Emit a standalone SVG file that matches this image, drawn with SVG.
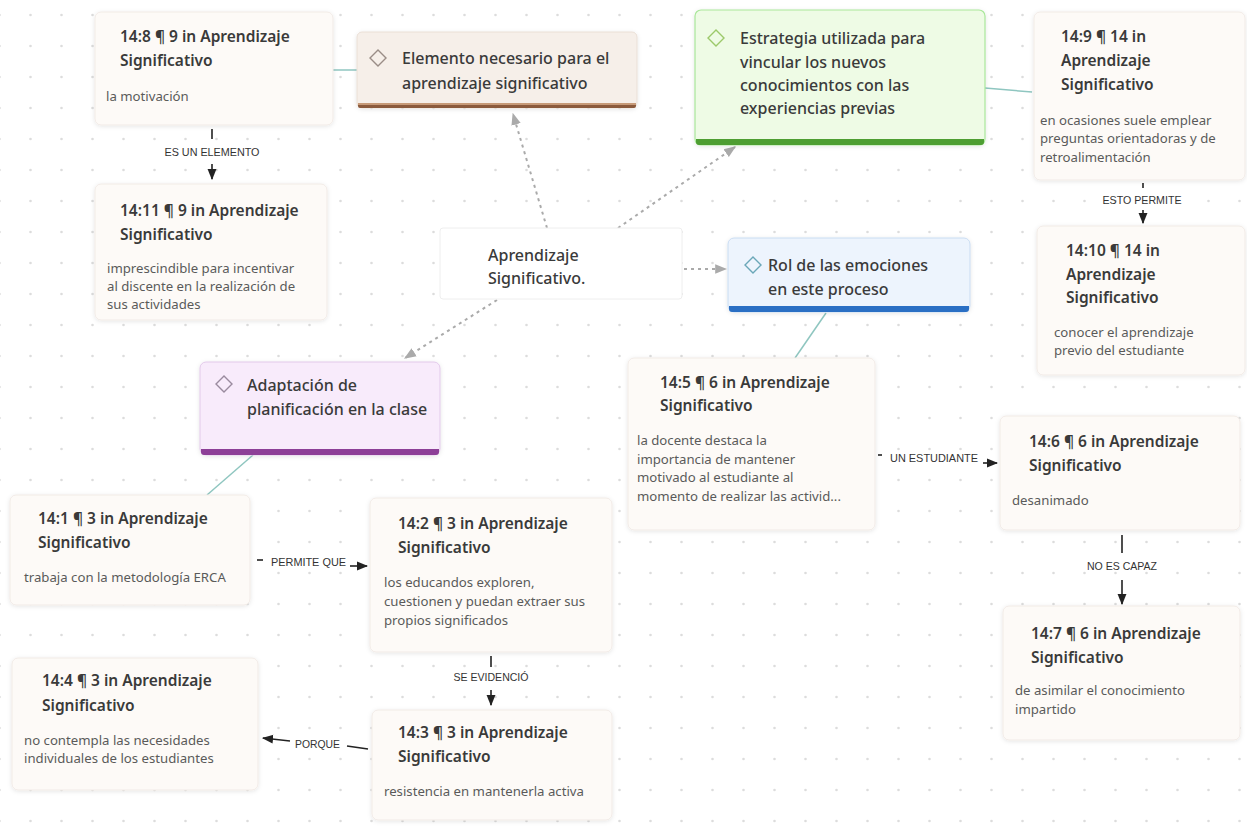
<svg xmlns="http://www.w3.org/2000/svg" width="1247" height="834" viewBox="0 0 1247 834">
<defs>
<pattern id="dots" x="15" y="0" width="31" height="31" patternUnits="userSpaceOnUse">
<circle cx="15.5" cy="15" r="1.3" fill="#dcdcdc"/>
</pattern>
<filter id="sh" x="-10%" y="-10%" width="120%" height="130%">
<feDropShadow dx="0" dy="1" stdDeviation="2" flood-color="#000" flood-opacity="0.10"/>
</filter>
<marker id="ah" viewBox="0 0 10 10" refX="9" refY="5" markerWidth="7" markerHeight="7" orient="auto">
<path d="M0,1 L10,5 L0,9 z" fill="#222"/>
</marker>
<marker id="ahg" viewBox="0 0 10 10" refX="9" refY="5" markerWidth="6" markerHeight="6" orient="auto">
<path d="M0,1 L10,5 L0,9 z" fill="#aaa"/>
</marker>
<style>
.card{fill:#fdfaf7;stroke:#f1ebe6;stroke-width:1;filter:url(#sh)}
.t{font-family:"Noto Sans","Open Sans",sans-serif;font-size:15.5px;font-weight:600;fill:#3a3a3a}
.b{font-family:"Noto Sans","Open Sans",sans-serif;font-size:13.2px;fill:#5a5a5a}
.h{font-family:"Noto Sans","Open Sans",sans-serif;font-size:16px;font-weight:500;fill:#3a3a3a}
.lbl{font-family:"Liberation Sans","DejaVu Sans",sans-serif;font-size:10.5px;fill:#333}
.dia{fill:none;stroke-width:1.4}
.arr{stroke:#222;stroke-width:1.6;fill:none}
.dsh{stroke:#aaa;stroke-width:2;stroke-dasharray:3 4;fill:none}
.tl{stroke:#8fc6c0;stroke-width:1.5;fill:none}
</style>
</defs>
<rect width="1247" height="834" fill="#ffffff"/>
<rect width="1247" height="834" fill="url(#dots)"/>

<g id="connectors">
<line class="tl" x1="333" y1="70" x2="357" y2="70"/>
<line class="tl" x1="985" y1="88" x2="1032" y2="92"/>
<line class="tl" x1="826" y1="313" x2="795" y2="358"/>
<line class="tl" x1="253" y1="455" x2="207" y2="495"/>
<line class="dsh" x1="547" y1="228" x2="513" y2="114" marker-end="url(#ahg)"/>
<line class="dsh" x1="618" y1="228" x2="735" y2="147" marker-end="url(#ahg)"/>
<line class="dsh" x1="684" y1="269" x2="726" y2="269" marker-end="url(#ahg)"/>
<line class="dsh" x1="497" y1="300" x2="405" y2="358" marker-end="url(#ahg)"/>
<line class="arr" x1="212" y1="129" x2="212" y2="139"/>
<text class="lbl" x="212" y="156" text-anchor="middle" textLength="95" lengthAdjust="spacingAndGlyphs">ES UN ELEMENTO</text>
<line class="arr" x1="212" y1="164" x2="212" y2="179" marker-end="url(#ah)"/>
<line class="arr" x1="1143" y1="183" x2="1143" y2="188"/>
<text class="lbl" x="1142" y="204" text-anchor="middle" textLength="79" lengthAdjust="spacingAndGlyphs">ESTO PERMITE</text>
<line class="arr" x1="1143" y1="210" x2="1143" y2="223" marker-end="url(#ah)"/>
<line class="arr" x1="878" y1="455" x2="882" y2="455"/>
<text class="lbl" x="890" y="462" textLength="88" lengthAdjust="spacingAndGlyphs">UN ESTUDIANTE</text>
<line class="arr" x1="983" y1="463" x2="997" y2="463" marker-end="url(#ah)"/>
<line class="arr" x1="1122" y1="535" x2="1122" y2="553"/>
<text class="lbl" x="1122" y="570" text-anchor="middle" textLength="70" lengthAdjust="spacingAndGlyphs">NO ES CAPAZ</text>
<line class="arr" x1="1122" y1="580" x2="1122" y2="604" marker-end="url(#ah)"/>
<line class="arr" x1="257" y1="560" x2="263" y2="560"/>
<text class="lbl" x="271" y="566" textLength="75" lengthAdjust="spacingAndGlyphs">PERMITE QUE</text>
<line class="arr" x1="350" y1="566" x2="367" y2="566" marker-end="url(#ah)"/>
<line class="arr" x1="491" y1="656" x2="491" y2="667"/>
<text class="lbl" x="491" y="681" text-anchor="middle" textLength="75" lengthAdjust="spacingAndGlyphs">SE EVIDENCIÓ</text>
<line class="arr" x1="491" y1="690" x2="491" y2="705" marker-end="url(#ah)"/>
<line class="arr" x1="368" y1="749" x2="347" y2="746"/>
<text class="lbl" x="295" y="748" textLength="45" lengthAdjust="spacingAndGlyphs">PORQUE</text>
<line class="arr" x1="290" y1="741" x2="263" y2="738" marker-end="url(#ah)"/>
</g>

<g id="n-14-8">
<rect class="card" x="95" y="12" width="238" height="113" rx="6"/>
<text class="t" x="120" y="42">14:8 ¶ 9 in Aprendizaje</text>
<text class="t" x="120" y="66">Significativo</text>
<text class="b" x="106" y="101">la  motivación</text>
</g>

<g id="n-elemento">
<rect x="357" y="32" width="280" height="76" rx="5" fill="#f6efe9" stroke="#eadfd6" filter="url(#sh)"/>
<path d="M358,104 H636 V106 a2,2 0 0 1 -2,2 H360 a2,2 0 0 1 -2,-2 z" fill="#8b5a3c"/>
<rect x="358" y="103" width="278" height="2" fill="#c79a78"/>
<path class="dia" d="M378,50 L386,58 L378,66 L370,58 Z" stroke="#9a8d86"/>
<text class="h" x="402" y="64">Elemento necesario para el</text>
<text class="h" x="402" y="89">aprendizaje significativo</text>
</g>

<g id="n-14-11">
<rect class="card" x="95" y="184" width="232" height="136" rx="6"/>
<text class="t" x="120" y="216">14:11 ¶ 9 in Aprendizaje</text>
<text class="t" x="120" y="240">Significativo</text>
<text class="b" x="107" y="273">imprescindible para incentivar</text>
<text class="b" x="107" y="291">al discente en la realización de</text>
<text class="b" x="107" y="309">sus actividades</text>
</g>

<g id="n-center">
<rect x="440" y="228" width="242" height="71" rx="3" fill="#ffffff" stroke="#eeeeee"/>
<text class="h" x="488" y="261">Aprendizaje</text>
<text class="h" x="488" y="284">Significativo.</text>
</g>

<g id="n-estrategia">
<rect x="695" y="10" width="290" height="135" rx="6" fill="#eefbe5" stroke="#a9e79a" stroke-width="1.2" filter="url(#sh)"/>
<path d="M696,139 H984 V142 a3,3 0 0 1 -3,3 H699 a3,3 0 0 1 -3,-3 z" fill="#4e9e32"/>
<path class="dia" d="M716,30 L724,38 L716,46 L708,38 Z" stroke="#9cc96a"/>
<text class="h" x="740" y="44">Estrategia utilizada para</text>
<text class="h" x="740" y="68">vincular los nuevos</text>
<text class="h" x="740" y="91">conocimientos con las</text>
<text class="h" x="740" y="114">experiencias previas</text>
</g>

<g id="n-14-9">
<rect class="card" x="1034" y="12" width="211" height="168" rx="6"/>
<text class="t" x="1061" y="42">14:9 ¶ 14 in</text>
<text class="t" x="1061" y="66">Aprendizaje</text>
<text class="t" x="1061" y="90">Significativo</text>
<text class="b" x="1040" y="125">en ocasiones suele emplear</text>
<text class="b" x="1040" y="143">preguntas orientadoras y de</text>
<text class="b" x="1040" y="162">retroalimentación</text>
</g>

<g id="n-14-10">
<rect class="card" x="1037" y="226" width="208" height="149" rx="6"/>
<text class="t" x="1066" y="256">14:10 ¶ 14 in</text>
<text class="t" x="1066" y="280">Aprendizaje</text>
<text class="t" x="1066" y="303">Significativo</text>
<text class="b" x="1054" y="337">conocer el aprendizaje</text>
<text class="b" x="1054" y="355">previo del estudiante</text>
</g>

<g id="n-rol">
<rect x="728" y="238" width="242" height="74" rx="6" fill="#edf4fd" stroke="#c9dcf2" filter="url(#sh)"/>
<path d="M729,306 H969 V309 a3,3 0 0 1 -3,3 H732 a3,3 0 0 1 -3,-3 z" fill="#2a6fc4"/>
<path class="dia" d="M753,257 L761,265 L753,273 L745,265 Z" stroke="#6aa7b8"/>
<text class="h" x="768" y="271">Rol de las emociones</text>
<text class="h" x="768" y="295">en este proceso</text>
</g>

<g id="n-14-5">
<rect class="card" x="628" y="358" width="247" height="172" rx="6"/>
<text class="t" x="660" y="388">14:5 ¶ 6 in Aprendizaje</text>
<text class="t" x="660" y="411">Significativo</text>
<text class="b" x="637" y="445">la docente destaca la</text>
<text class="b" x="637" y="464">importancia de mantener</text>
<text class="b" x="637" y="482">motivado al estudiante al</text>
<text class="b" x="637" y="501">momento de realizar las activid...</text>
</g>

<g id="n-14-6">
<rect class="card" x="1000" y="416" width="240" height="114" rx="6"/>
<text class="t" x="1029" y="447">14:6 ¶ 6 in Aprendizaje</text>
<text class="t" x="1029" y="471">Significativo</text>
<text class="b" x="1012" y="505">desanimado</text>
</g>

<g id="n-14-7">
<rect class="card" x="1003" y="606" width="237" height="134" rx="6"/>
<text class="t" x="1031" y="639">14:7 ¶ 6 in Aprendizaje</text>
<text class="t" x="1031" y="663">Significativo</text>
<text class="b" x="1015" y="695">de asimilar el conocimiento</text>
<text class="b" x="1015" y="714">impartido</text>
</g>

<g id="n-adaptacion">
<rect x="200" y="362" width="240" height="93" rx="6" fill="#f8ebfb" stroke="#e2c9ea" filter="url(#sh)"/>
<path d="M201,449 H439 V452 a3,3 0 0 1 -3,3 H204 a3,3 0 0 1 -3,-3 z" fill="#8d3f97"/>
<path class="dia" d="M224,376 L232,384 L224,392 L216,384 Z" stroke="#9a8a9e"/>
<text class="h" x="247" y="391">Adaptación de</text>
<text class="h" x="247" y="415">planificación en la clase</text>
</g>

<g id="n-14-1">
<rect class="card" x="10" y="495" width="240" height="110" rx="6"/>
<text class="t" x="38" y="524">14:1 ¶ 3 in Aprendizaje</text>
<text class="t" x="38" y="548">Significativo</text>
<text class="b" x="24" y="582">trabaja con la metodología ERCA</text>
</g>

<g id="n-14-2">
<rect class="card" x="370" y="498" width="242" height="154" rx="6"/>
<text class="t" x="398" y="529">14:2 ¶ 3 in Aprendizaje</text>
<text class="t" x="398" y="553">Significativo</text>
<text class="b" x="384" y="587">los educandos exploren,</text>
<text class="b" x="384" y="606">cuestionen y puedan extraer sus</text>
<text class="b" x="384" y="625">propios significados</text>
</g>

<g id="n-14-3">
<rect class="card" x="372" y="710" width="240" height="110" rx="6"/>
<text class="t" x="398" y="738">14:3 ¶ 3 in Aprendizaje</text>
<text class="t" x="398" y="762">Significativo</text>
<text class="b" x="384" y="796">resistencia en mantenerla activa</text>
</g>

<g id="n-14-4">
<rect class="card" x="12" y="658" width="246" height="132" rx="6"/>
<text class="t" x="42" y="686">14:4 ¶ 3 in Aprendizaje</text>
<text class="t" x="42" y="711">Significativo</text>
<text class="b" x="24" y="745">no contempla las necesidades</text>
<text class="b" x="24" y="763">individuales de los estudiantes</text>
</g>
</svg>
